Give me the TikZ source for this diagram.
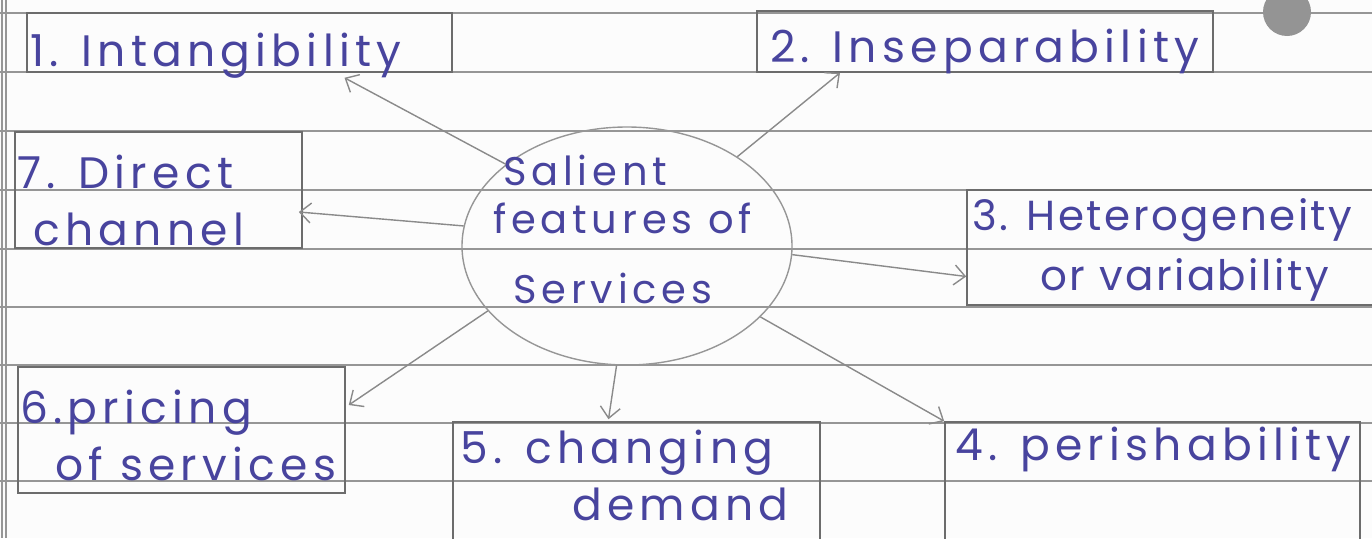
\documentclass[tikz,border=0pt]{standalone}
\usepackage{fontspec}
\setmainfont{Poppins}[LetterSpace=12]
\usepackage{tikz}
\usetikzlibrary{shapes.geometric,arrows.meta}
\definecolor{ink}{RGB}{72,68,158}
\definecolor{ruling}{RGB}{150,150,150}
\definecolor{boxline}{RGB}{108,108,108}
\definecolor{linkgray}{RGB}{138,138,138}
\definecolor{punch}{RGB}{148,148,148}

\begin{document}
\begin{tikzpicture}[
  x=1pt, y=-1pt,
  feat/.style={rectangle,draw=boxline,line width=1.6pt,inner sep=0pt},
  hand/.style={text=ink,font=\fontsize{44}{50}\selectfont,anchor=base west,inner sep=0pt},
  handsm/.style={hand,font=\fontsize{40}{46}\selectfont},
  handtight/.style={hand,font=\fontsize{42}{48}\selectfont\addfontfeature{LetterSpace=6}},
  core/.style={ellipse,draw=ruling,line width=1.4pt,inner sep=0pt},
  link/.style={draw=linkgray,line width=1.4pt,-{Straight Barb[length=11pt,width=20pt]}}
]
\useasboundingbox (0,0) rectangle (1372,538);
\clip (0,0) rectangle (1372,538);
%% ─── Notebook page ──────────────────────────────────────────────────────────
\fill[white!98!gray] (0,0) rectangle (1372,538);
\foreach \y in {13,72,131,190,249,307,365,423,481}
  \draw[ruling,line width=1.8pt] (0,\y) -- (1372,\y);
\draw[ruling,line width=1.5pt] (2,0) -- (2,538) (6,0) -- (6,538);
\fill[punch] (1287,12) circle (24);
%% ─── Feature boxes ──────────────────────────────────────────────────────────
\node[feat,minimum width=425pt,minimum height=59pt]  (int)    at (239.5,42.5) {};
\node[feat,minimum width=456pt,minimum height=61pt]  (insep)  at (985,41.5)   {};
\node[feat,minimum width=287pt,minimum height=116pt] (direct) at (158.5,190)  {};
\node[feat,minimum width=418pt,minimum height=115pt] (hetero) at (1176,247.5) {};
\node[feat,minimum width=327pt,minimum height=126pt] (pricing) at (181.5,430) {};
\node[feat,minimum width=367pt,minimum height=128pt] (demand) at (636.5,486)  {};
\node[feat,minimum width=415pt,minimum height=128pt] (perish) at (1152.5,486) {};
%% ─── Centre ─────────────────────────────────────────────────────────────────
\node[core,minimum width=330pt,minimum height=238pt] (core) at (627,246) {};
\node[handsm] (coreA) at (503,185) {Salient};
\node[handsm] (coreB) at (493,233) {features of};
\node[handsm] (coreC) at (513,303) {Services};
%% ─── Labels ─────────────────────────────────────────────────────────────────
\node[hand] (intT)     at (30,66)   {1. Intangibility};
\node[hand] (insepT)   at (770,62)  {2. Inseparability};
\node[handtight] (heteroA) at (972,230) {3. Heterogeneity};
\node[handtight] (heteroB) at (1040,290) {or variability};
\node[hand] (perishT)  at (955,460) {4. perishability};
\node[hand] (demandA)  at (460,463) {5. changing};
\node[hand] (demandB)  at (572,520) {demand};
\node[hand] (pricingA) at (20,423)  {6.pricing};
\node[hand] (pricingB) at (55,480)  {of services};
\node[hand] (directA)  at (17,188)  {7. Direct};
\node[hand] (directB)  at (33,245)  {channel};
%% ─── Arrows ─────────────────────────────────────────────────────────────────
\draw[link] (core.146) -- ([xshift=105pt,yshift=-5pt]int.south);
\draw[link] (core.39)  -- ([xshift=-145pt]insep.south);
\draw[link] (core.173) -- ([xshift=-4pt,yshift=-22pt]direct.east);
\draw[link] (core.357) -- ([yshift=-29pt]hetero.west);
\draw[link] (core.332) -- (perish.north west);
\draw[link] (core.265) -- ([xshift=-28pt,yshift=2pt]demand.north);
\draw[link] (core.205) -- ([xshift=3pt,yshift=25pt]pricing.east);
\end{tikzpicture}
\end{document}
